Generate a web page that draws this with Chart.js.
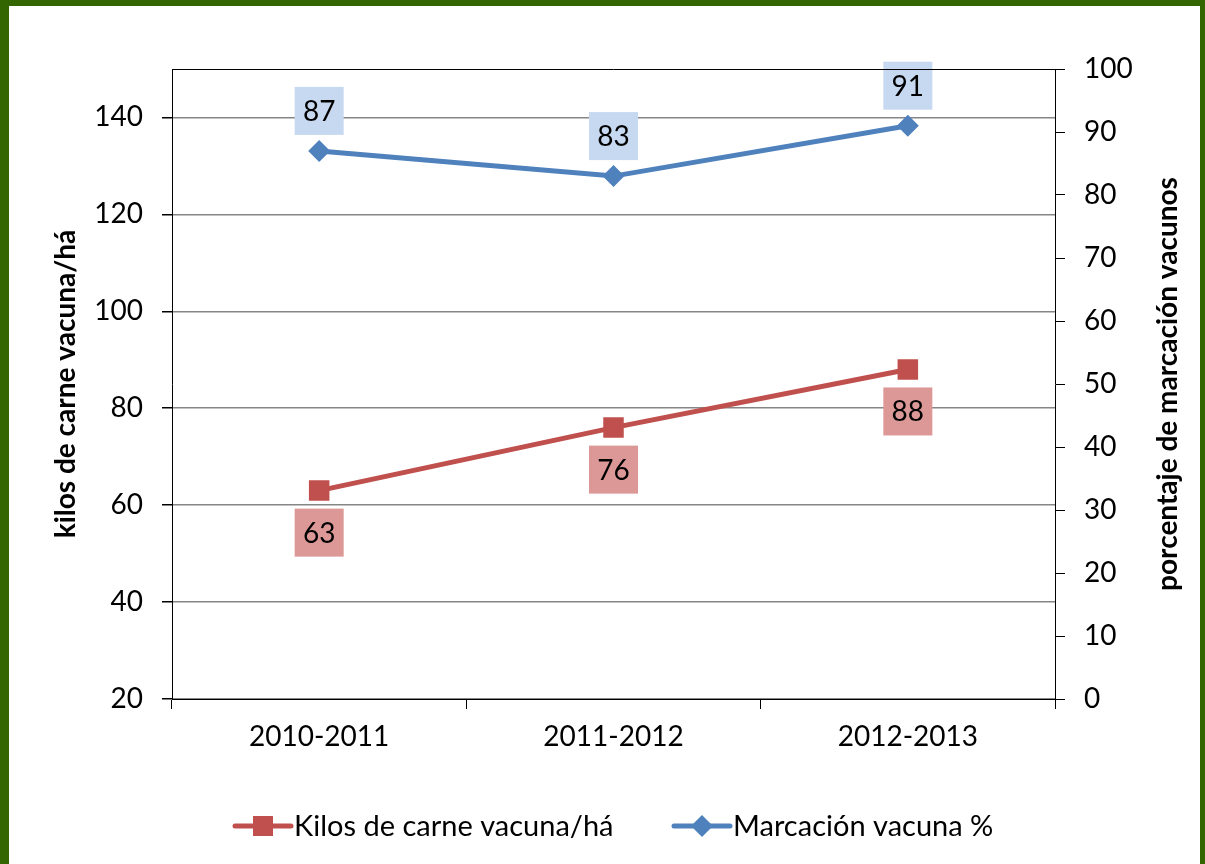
<!DOCTYPE html>
<html>
<head>
<meta charset="utf-8">
<script src="https://cdn.jsdelivr.net/npm/chart.js@4"></script>
<style>
  html, body { margin: 0; padding: 0; background: #fff; }
  #wrap { position: relative; width: 1205px; height: 864px; overflow: hidden; }
  #frame {
    position: absolute; left: 0; top: 0; width: 1205px; height: 864px;
    box-sizing: border-box; border-style: solid; border-color: #336600;
    border-width: 6px 5px 0 9px; pointer-events: none;
  }
  canvas { position: absolute; left: 0; top: 0; }
</style>
</head>
<body>
<div id="wrap">
  <canvas id="chart" width="1205" height="864"></canvas>
  <div id="frame"></div>
</div>
<script>
// datos
const campanias = ['2010-2011', '2011-2012', '2012-2013'];
const kilosCarne = [63, 76, 88];
const marcacion = [87, 83, 91];
const ticksIzq = [20, 40, 60, 80, 100, 120, 140];

const FONT = 'Lato';
const ROJO = '#c0504d';
const AZUL = '#4f81bd';

// etiquetas de valor con caja de color
const etiquetas = {
    id: 'etiquetas',
    afterDatasetsDraw(chart) {
        const ctx = chart.ctx;
        const cajas = [
            { ds: 0, fondo: '#dc9896', dy: 42 },
            { ds: 1, fondo: '#c6d9f1', dy: -40 }
        ];
        ctx.save();
        ctx.font = '28px ' + FONT;
        ctx.textAlign = 'center';
        ctx.textBaseline = 'middle';
        cajas.forEach(c => {
            const meta = chart.getDatasetMeta(c.ds);
            const valores = chart.data.datasets[c.ds].data;
            meta.data.forEach((p, i) => {
                const cx = p.x, cy = p.y + c.dy;
                ctx.fillStyle = c.fondo;
                ctx.fillRect(cx - 24.5, cy - 24, 49, 48);
                ctx.fillStyle = '#000';
                ctx.fillText(String(valores[i]), cx, cy + 1);
            });
        });
        ctx.restore();
    }
};

// títulos de ejes, borde superior y leyenda
const extras = {
    id: 'extras',
    afterDraw(chart) {
        const ctx = chart.ctx;
        const area = chart.chartArea;
        ctx.save();

        ctx.strokeStyle = '#000';
        ctx.lineWidth = 1;
        ctx.beginPath();
        ctx.moveTo(area.left, area.top + 0.5);
        ctx.lineTo(area.right, area.top + 0.5);
        ctx.stroke();

        ctx.fillStyle = '#000';
        ctx.font = 'bold 28px ' + FONT;
        ctx.textAlign = 'center';
        ctx.textBaseline = 'middle';
        const mid = (area.top + area.bottom) / 2;
        [[66, 'kilos de carne vacuna/há'], [1168, 'porcentaje de marcación vacunos']].forEach(t => {
            ctx.save();
            ctx.translate(t[0], mid);
            ctx.rotate(-Math.PI / 2);
            ctx.fillText(t[1], 0, 0);
            ctx.restore();
        });

        // leyenda
        const items = [
            { x: 235, color: ROJO, forma: 'rect', texto: chart.data.datasets[0].label },
            { x: 674, color: AZUL, forma: 'rombo', texto: chart.data.datasets[1].label }
        ];
        const ly = 826;
        ctx.font = '29px ' + FONT;
        ctx.textAlign = 'left';
        items.forEach(it => {
            ctx.strokeStyle = it.color;
            ctx.lineWidth = 5;
            ctx.lineCap = 'round';
            ctx.beginPath();
            ctx.moveTo(it.x, ly);
            ctx.lineTo(it.x + 56, ly);
            ctx.stroke();
            ctx.fillStyle = it.color;
            const mx = it.x + 28;
            if (it.forma === 'rect') {
                ctx.fillRect(mx - 10, ly - 10, 20, 20);
            } else {
                ctx.beginPath();
                ctx.moveTo(mx, ly - 11);
                ctx.lineTo(mx + 11, ly);
                ctx.lineTo(mx, ly + 11);
                ctx.lineTo(mx - 11, ly);
                ctx.closePath();
                ctx.fill();
            }
            ctx.fillStyle = '#000';
            ctx.fillText(it.texto, it.x + 59, ly + 1);
        });
        ctx.restore();
    }
};

new Chart(document.getElementById('chart'), {
    type: 'line',
    data: {
        labels: campanias,
        datasets: [
            {
                label: 'Kilos de carne vacuna/há',
                data: kilosCarne,
                yAxisID: 'y',
                borderColor: ROJO,
                backgroundColor: ROJO,
                borderWidth: 5,
                pointStyle: 'rect',
                pointRadius: 14.5,
                pointBorderWidth: 0,
                tension: 0
            },
            {
                label: 'Marcación vacuna %',
                data: marcacion,
                yAxisID: 'y1',
                borderColor: AZUL,
                backgroundColor: AZUL,
                borderWidth: 5,
                pointStyle: 'rectRot',
                pointRadius: 11,
                pointBorderWidth: 0,
                tension: 0
            }
        ]
    },
    options: {
        responsive: false,
        devicePixelRatio: 1,
        animation: false,
        layout: { padding: { top: 69, left: 0, right: 0, bottom: 0 } },
        plugins: {
            legend: { display: false },
            tooltip: { enabled: false }
        },
        scales: {
            x: {
                offset: true,
                grid: {
                    offset: true,
                    drawOnChartArea: false,
                    tickColor: '#000',
                    tickLength: 10
                },
                border: { color: '#000', width: 1 },
                ticks: {
                    color: '#000',
                    padding: 11,
                    font: { family: FONT, size: 28 }
                },
                afterFit: s => { s.height = 165; }
            },
            y: {
                position: 'left',
                min: 20,
                max: 150,
                afterBuildTicks: s => { s.ticks = ticksIzq.map(v => ({ value: v })); },
                grid: {
                    color: '#868686',
                    lineWidth: 1.5,
                    tickColor: '#000',
                    tickLength: 10
                },
                border: { color: '#000', width: 1 },
                ticks: {
                    color: '#000',
                    padding: 19,
                    font: { family: FONT, size: 28 }
                },
                afterFit: s => { s.width = 172; }
            },
            y1: {
                position: 'right',
                min: 0,
                max: 100,
                ticks: {
                    stepSize: 10,
                    color: '#000',
                    padding: 19,
                    font: { family: FONT, size: 28 }
                },
                grid: {
                    drawOnChartArea: false,
                    tickColor: '#000',
                    tickLength: 10
                },
                border: { color: '#000', width: 1 },
                afterFit: s => { s.width = 150; }
            }
        }
    },
    plugins: [etiquetas, extras]
});
</script>
</body>
</html>
